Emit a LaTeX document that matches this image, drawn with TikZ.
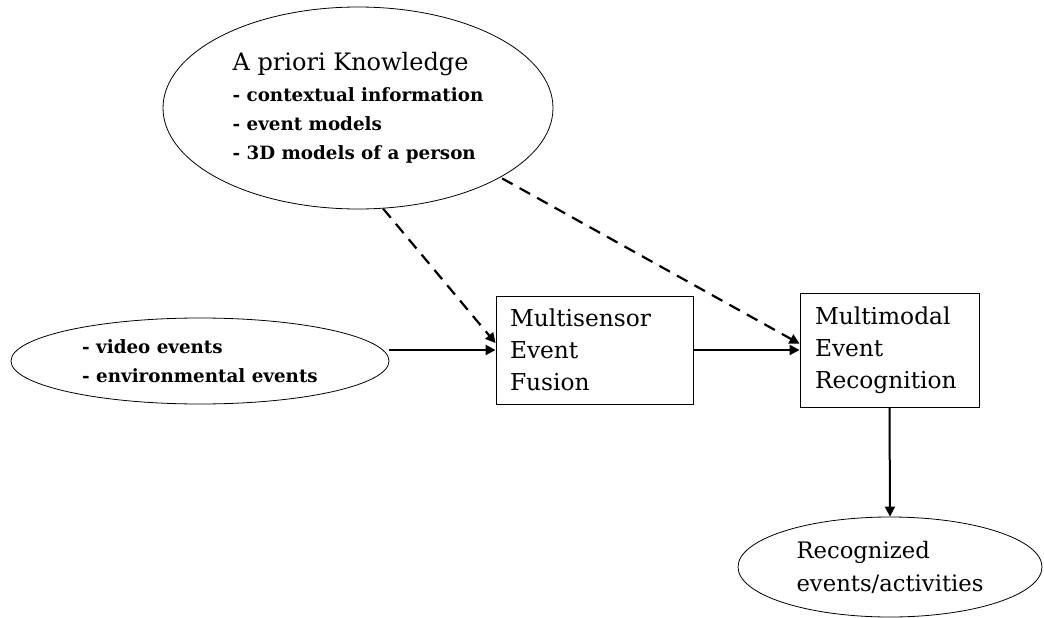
\documentclass[tikz,border=0pt]{standalone}
\usepackage{fontspec}
\setmainfont{DejaVu Serif}
\usepackage{tikz}
\usetikzlibrary{calc, positioning, arrows.meta, shapes.geometric}

\begin{document}
\begin{tikzpicture}[x=1pt, y=-1pt,
    blob/.style={draw, ellipse, inner sep=0pt, align=left, line width=0.8pt},
    stage/.style={draw, rectangle, align=left, line width=0.9pt,
      font=\fontsize{23.3}{32}\selectfont},
    flow/.style={-{Triangle[length=10pt, width=10pt]}, line width=2pt},
    hint/.style={flow, dashed, dash pattern=on 12pt off 8pt, line width=2.2pt}]
  \useasboundingbox (0,0) rectangle (1044,618);

  % knowledge and input sources
  \node[blob, minimum width=390, minimum height=202,
    font=\fontsize{18.3}{29}\selectfont\bfseries] (apk) at (358,108)
    {{\mdseries\fontsize{24}{29}\selectfont A priori Knowledge}\\[2pt]
     - contextual information\\ - event models\\ - 3D models of a person};
  \node[blob, minimum width=378, minimum height=86,
    font=\fontsize{18.3}{29}\selectfont\bfseries] (lft) at (200,361)
    {- video events\\ - environmental events};

  % processing stages
  \node[stage, minimum width=197, minimum height=108, inner xsep=14pt,
    text width=169pt] (mse) at (594.5,350) {Multisensor\\ Event\\ Fusion};
  \node[stage, minimum width=179, minimum height=114, inner xsep=15pt,
    text width=149pt] (mme) at (889.5,350) {Multimodal\\ Event\\ Recognition};

  % output
  \node[blob, minimum width=304, minimum height=100,
    font=\fontsize{22.7}{33}\selectfont] (rec) at (890,567)
    {Recognized\\ events/activities};

  \draw[flow] (lft.east |- mse.west) -- (mse.west);
  \draw[flow] (mse.east) -- (mme.west);
  \draw[flow] (mme.south) -- (rec.north);
  \draw[hint] (apk.-76) -- (mse.176);
  \draw[hint, shorten <=2pt] (apk.-26) -- (mme.176);
\end{tikzpicture}
\end{document}
